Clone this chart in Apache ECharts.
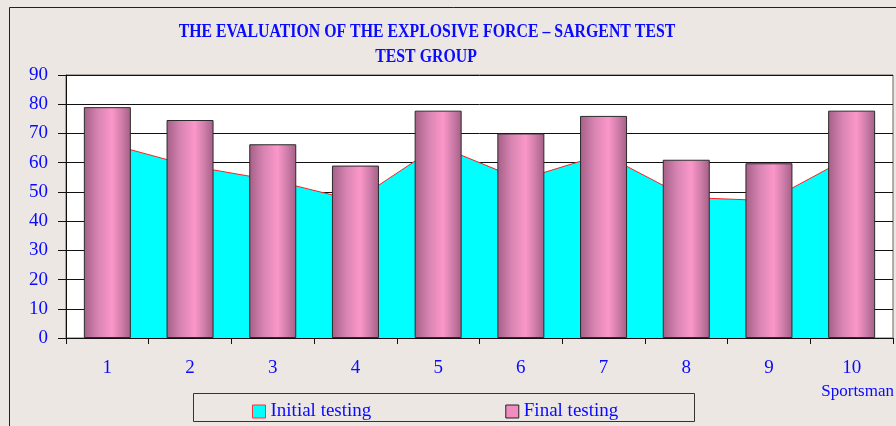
<!DOCTYPE html>
<html>
<head>
<meta charset="utf-8">
<script src="https://cdn.jsdelivr.net/npm/echarts@6/dist/echarts.min.js"></script>
<style>
  html, body { margin: 0; padding: 0; background: #ece7e3; }
  #main { width: 896px; height: 426px; }
</style>
</head>
<body>
<div id="main"></div>
<script>
// data
var sportsmen = ['1', '2', '3', '4', '5', '6', '7', '8', '9', '10'];
var initialTesting = [66.6, 58.9, 54, 47, 65.8, 54.2, 62.9, 48.1, 47, 62.3];
var finalTesting = [79, 74.6, 66.3, 59, 77.8, 70, 76, 61, 59.8, 77.8];
var yTicks = [0, 10, 20, 30, 40, 50, 60, 70, 80, 90];

var serif = '"Liberation Serif", "DejaVu Serif", serif';
var blue = '#0a0aff';

var barFill = new echarts.graphic.LinearGradient(0, 0, 1, 0, [
    {offset: 0, color: '#a45f86'},
    {offset: 0.3, color: '#d784b2'},
    {offset: 0.6, color: '#fb97c9'},
    {offset: 0.8, color: '#d07eab'},
    {offset: 1, color: '#a45f86'}
]);

var chart = echarts.init(document.getElementById('main'));
var option = {
    backgroundColor: '#ece7e3',
    animation: false,
    graphic: [
        {type: 'rect', shape: {x: 9.5, y: 7.5, width: 900, height: 430},
         style: {fill: null, stroke: '#222', lineWidth: 1}, silent: true},
        // title is narrow and tall in the original, so squeeze it a little
        {type: 'text', x: 427, y: 22, scaleX: 0.88, scaleY: 1.1,
         style: {text: 'THE EVALUATION OF THE EXPLOSIVE FORCE \u2013 SARGENT TEST', textAlign: 'center',
                 fill: blue, font: 'bold 18px ' + serif}},
        {type: 'text', x: 426, y: 47, scaleX: 0.88, scaleY: 1.1,
         style: {text: 'TEST GROUP', textAlign: 'center', fill: blue, font: 'bold 18px ' + serif}},
        {type: 'rect', shape: {x: 193.5, y: 393.5, width: 501, height: 28},
         style: {fill: null, stroke: '#333', lineWidth: 1}, silent: true},
        {type: 'text', right: 2, top: 383,
         style: {text: 'Sportsman', fill: blue, font: '17px ' + serif}}
    ],
    grid: {
        left: 66, right: 3, top: 75, bottom: 88,
        show: true, backgroundColor: '#ffffff', borderColor: '#666', borderWidth: 1
    },
    legend: {
        left: 247, top: 397,
        itemWidth: 13, itemHeight: 13, itemGap: 134,
        textStyle: {color: blue, fontFamily: serif, fontSize: 19},
        data: [
            {name: 'Initial testing', icon: 'rect',
             itemStyle: {color: '#00ffff', borderColor: '#ff3030', borderWidth: 1}},
            {name: 'Final testing', icon: 'rect',
             itemStyle: {color: '#f08cc0', borderColor: '#222', borderWidth: 1}}
        ]
    },
    xAxis: {
        type: 'category',
        data: sportsmen,
        boundaryGap: true,
        axisLine: {lineStyle: {color: '#111', width: 1}},
        axisTick: {show: true, inside: false, length: 6, lineStyle: {color: '#111'}},
        axisLabel: {color: blue, fontFamily: serif, fontSize: 19, margin: 21},
        splitLine: {show: false}
    },
    yAxis: {
        type: 'value',
        min: 0, max: 90, interval: 10,
        axisLine: {show: true, lineStyle: {color: '#111', width: 1}},
        axisTick: {show: true, inside: false, length: 8, lineStyle: {color: '#111'}},
        axisLabel: {color: blue, fontFamily: serif, fontSize: 19, margin: 18,
            formatter: function (v) { return yTicks.indexOf(v) >= 0 ? String(v) : ''; }},
        splitLine: {show: true, lineStyle: {color: '#111', width: 1}}
    },
    series: [
        {
            name: 'Initial testing',
            type: 'line',
            data: initialTesting,
            symbol: 'none',
            smooth: false,
            lineStyle: {color: '#ff2020', width: 1},
            itemStyle: {color: '#00ffff'},
            areaStyle: {color: '#00ffff', opacity: 1},
            z: 2
        },
        {
            name: 'Final testing',
            type: 'bar',
            data: finalTesting,
            barWidth: 47,
            itemStyle: {color: barFill, borderColor: '#2a2a2a', borderWidth: 1},
            z: 3
        }
    ]
};
chart.setOption(option);
</script>
</body>
</html>
